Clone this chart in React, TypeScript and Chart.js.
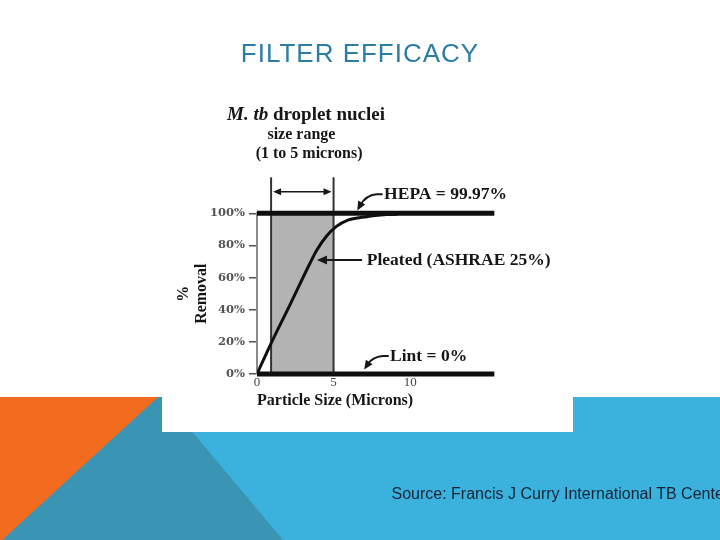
import React, { useEffect, useRef } from "react";
import { Chart, registerables } from "chart.js";

Chart.register(...registerables);

// ---- data ----
const slideTitle = "FILTER EFFICACY";
const sourceText = "Source: Francis J Curry International TB Center";
const headerLines = ["size range", "(1 to 5 microns)"];
const xTickValues = [0, 5, 10];
const yTickStep = 20;
const pleatedX = [0, 0.92, 2.2, 3.46, 3.9, 4.56, 5.21, 5.86, 7.17, 8.48, 9.2];
const pleatedY = [0, 19.1, 44, 68.9, 77, 86, 92, 95.5, 97.9, 99.2, 99.6];
const hepaY = 100;
const lintY = 0;
const filterLineX = [0, 15.5];
const dropletRange = [0.92, 5];
const rangeMarkerTop = 122.4;
const rangeArrowY = 113.4;
const hepaLabel = "HEPA = 99.97%";
const pleatedLabel = "Pleated (ASHRAE 25%)";
const lintLabel = "Lint = 0%";

const SERIF = '"Liberation Serif", "DejaVu Serif", serif';

function arrowHead(ctx: CanvasRenderingContext2D, tx: number, ty: number, fx: number, fy: number, len = 9, half = 4) {
  const a = Math.atan2(ty - fy, tx - fx);
  ctx.beginPath();
  ctx.moveTo(tx, ty);
  ctx.lineTo(tx - len * Math.cos(a) + half * Math.sin(a), ty - len * Math.sin(a) - half * Math.cos(a));
  ctx.lineTo(tx - len * Math.cos(a) - half * Math.sin(a), ty - len * Math.sin(a) + half * Math.cos(a));
  ctx.closePath();
  ctx.fill();
}

const backgroundPlugin = {
  id: "slideBackground",
  beforeDraw(chart: any) {
    const ctx: CanvasRenderingContext2D = chart.ctx;
    ctx.save();
    ctx.fillStyle = "#ffffff";
    ctx.fillRect(0, 0, 720, 540);
    // light blue band
    ctx.fillStyle = "#3bb1de";
    ctx.fillRect(0, 397, 720, 143);
    // dark teal wedge
    ctx.fillStyle = "#3a94b4";
    ctx.beginPath();
    ctx.moveTo(157, 397);
    ctx.lineTo(163, 397);
    ctx.lineTo(283, 540);
    ctx.lineTo(0, 540);
    ctx.closePath();
    ctx.fill();
    // orange triangle
    ctx.fillStyle = "#f26b1f";
    ctx.beginPath();
    ctx.moveTo(0, 397);
    ctx.lineTo(158, 397);
    ctx.lineTo(0, 542);
    ctx.closePath();
    ctx.fill();
    // white picture frame
    ctx.fillStyle = "#ffffff";
    ctx.fillRect(162, 380, 411, 52);
    ctx.restore();
  },
};

const annotationPlugin = {
  id: "filterAnnotations",
  afterDatasetsDraw(chart: any) {
    const ctx: CanvasRenderingContext2D = chart.ctx;
    const xs = chart.scales.x;
    const ys = chart.scales.y;
    const px = (v: number) => xs.getPixelForValue(v);
    const py = (v: number) => ys.getPixelForValue(v);
    ctx.save();
    ctx.fillStyle = "#161616";
    ctx.strokeStyle = "#161616";

    // header
    const cx = px(3.2);
    ctx.textBaseline = "alphabetic";
    const italicFont = `italic bold 19px ${SERIF}`;
    const boldFont = `bold 19px ${SERIF}`;
    ctx.font = italicFont;
    const w1 = ctx.measureText("M. tb").width;
    ctx.font = boldFont;
    const w2 = ctx.measureText(" droplet nuclei").width;
    const start = cx - (w1 + w2) / 2;
    ctx.textAlign = "left";
    ctx.font = italicFont;
    ctx.fillText("M. tb", start, py(158));
    ctx.font = boldFont;
    ctx.fillText(" droplet nuclei", start + w1, py(158));
    ctx.textAlign = "center";
    ctx.font = `bold 16px ${SERIF}`;
    ctx.fillText(headerLines[0], px(2.9), py(146.4));
    ctx.fillText(headerLines[1], px(3.4), py(134.2));

    // double-headed range arrow
    {
      const y = py(rangeArrowY);
      const l = px(dropletRange[0]) + 2;
      const r = px(dropletRange[1]) - 2;
      ctx.lineWidth = 1.5;
      ctx.beginPath();
      ctx.moveTo(l + 5, y);
      ctx.lineTo(r - 5, y);
      ctx.stroke();
      arrowHead(ctx, l, y, r, y, 8, 3.5);
      arrowHead(ctx, r, y, l, y, 8, 3.5);
    }

    // labels
    ctx.font = `bold 17.5px ${SERIF}`;
    ctx.textAlign = "left";
    ctx.textBaseline = "middle";
    ctx.fillText(hepaLabel, px(8.3), py(111.6));
    ctx.fillText(pleatedLabel, px(7.17), py(70.9));
    ctx.fillText(lintLabel, px(8.69), py(11));

    ctx.lineWidth = 2;
    // HEPA arrow
    {
      const sx = px(8.2), sy = py(111.8);
      const hx = px(7.8);
      const cxp = px(7.1), cyp = py(111.2);
      const tx = px(6.55), ty = py(101.8);
      ctx.beginPath();
      ctx.moveTo(sx, sy);
      ctx.lineTo(hx, sy);
      ctx.quadraticCurveTo(cxp, cyp, tx + 3, ty - 5);
      ctx.stroke();
      arrowHead(ctx, tx, ty, cxp, cyp, 9, 4);
    }
    // Pleated arrow
    {
      const sx = px(6.86), y = py(70.9);
      const tx = px(3.92);
      ctx.beginPath();
      ctx.moveTo(sx, y);
      ctx.lineTo(tx + 6, y);
      ctx.stroke();
      arrowHead(ctx, tx, y, sx, y, 10, 4.5);
    }
    // Lint arrow
    {
      const sx = px(8.6), sy = py(11.2);
      const hx = px(8.2);
      const cxp = px(7.55), cyp = py(10.6);
      const tx = px(7.0), ty = py(2.8);
      ctx.beginPath();
      ctx.moveTo(sx, sy);
      ctx.lineTo(hx, sy);
      ctx.quadraticCurveTo(cxp, cyp, tx + 3, ty - 5);
      ctx.stroke();
      arrowHead(ctx, tx, ty, cxp, cyp, 9, 4);
    }
    ctx.restore();
  },
};

export default function App() {
  const ref = useRef<HTMLCanvasElement | null>(null);

  useEffect(() => {
    if (!ref.current) return;
    const black = "#0f0f0f";
    const chart = new Chart(ref.current, {
      type: "line",
      data: {
        datasets: [
          {
            label: "Pleated (ASHRAE 25%)",
            data: pleatedX.map((x, i) => ({ x, y: pleatedY[i] })),
            borderColor: black,
            borderWidth: 3,
            pointRadius: 0,
            cubicInterpolationMode: "monotone",
            fill: false,
            order: 0,
          },
          {
            label: "HEPA",
            data: filterLineX.map((x) => ({ x, y: hepaY })),
            borderColor: black,
            borderWidth: 5,
            pointRadius: 0,
            fill: false,
            clip: false,
            order: 1,
          },
          {
            label: "Lint",
            data: filterLineX.map((x) => ({ x, y: lintY })),
            borderColor: black,
            borderWidth: 5,
            pointRadius: 0,
            fill: false,
            clip: false,
            order: 1,
          },
          {
            label: "range start",
            data: [
              { x: dropletRange[0], y: 0 },
              { x: dropletRange[0], y: rangeMarkerTop },
            ],
            borderColor: "#333333",
            borderWidth: 2,
            pointRadius: 0,
            fill: false,
            clip: false,
            order: 2,
          },
          {
            label: "range end",
            data: [
              { x: dropletRange[1], y: 0 },
              { x: dropletRange[1], y: rangeMarkerTop },
            ],
            borderColor: "#333333",
            borderWidth: 2,
            pointRadius: 0,
            fill: false,
            clip: false,
            order: 2,
          },
          {
            label: "droplet range",
            data: [
              { x: dropletRange[0], y: hepaY },
              { x: dropletRange[1], y: hepaY },
            ],
            borderWidth: 0,
            borderColor: "rgba(0,0,0,0)",
            backgroundColor: "#b3b3b3",
            pointRadius: 0,
            fill: "origin",
            order: 3,
          },
        ],
      },
      options: {
        responsive: false,
        animation: false,
        devicePixelRatio: 1,
        events: [],
        layout: { padding: { left: 170, right: 218, top: 213.3, bottom: 126 } },
        plugins: {
          legend: { display: false },
          tooltip: { enabled: false },
          title: { display: false },
        },
        scales: {
          x: {
            type: "linear",
            min: 0,
            max: 16,
            afterBuildTicks: (s: any) => {
              s.ticks = xTickValues.map((v) => ({ value: v }));
            },
            grid: { display: false, drawTicks: false },
            border: { display: false },
            ticks: {
              font: { family: SERIF, size: 13 },
              color: "#444444",
              padding: 1,
              autoSkip: false,
              maxRotation: 0,
            },
            title: {
              display: true,
              text: "Particle Size (Microns)",
              align: "start",
              color: "#151515",
              font: { family: SERIF, size: 16, weight: "bold", lineHeight: 1.2 },
              padding: { top: 0, bottom: 3.7 },
            },
            afterFit: (s: any) => {
              s.height = 40;
            },
          },
          y: {
            type: "linear",
            min: 0,
            max: 100,
            ticks: {
              stepSize: yTickStep,
              callback: (v: any) => `${v}%`,
              font: { family: '"DejaVu Serif", serif', size: 11.5, weight: "bold" },
              color: "#555555",
              padding: 4,
            },
            grid: { drawOnChartArea: false, drawTicks: true, tickLength: 8, color: "#555555", lineWidth: 1.5 },
            border: { display: true, color: "#8a8a8a", width: 2 },
            title: {
              display: true,
              text: ["%", "Removal"],
              color: "#151515",
              font: { family: SERIF, size: 16, weight: "bold", lineHeight: 1.1 },
              padding: { top: 5.2, bottom: 0 },
            },
            afterFit: (s: any) => {
              s.width = 87;
            },
          },
        },
      },
      plugins: [backgroundPlugin, annotationPlugin],
    } as any);
    return () => chart.destroy();
  }, []);

  return (
    <div
      style={{
        position: "absolute",
        left: 0,
        top: 0,
        width: 720,
        height: 540,
        overflow: "hidden",
        background: "#ffffff",
      }}
    >
      <canvas
        ref={ref}
        width={720}
        height={540}
        style={{ position: "absolute", left: 0, top: 0, width: 720, height: 540 }}
      />
      <div
        style={{
          position: "absolute",
          left: 0,
          top: 39.7,
          width: 720,
          textAlign: "center",
          fontFamily: '"Liberation Sans", Arial, sans-serif',
          fontSize: 26,
          lineHeight: "26px",
          letterSpacing: "1px",
          color: "#2b7da6",
          whiteSpace: "nowrap",
        }}
      >
        {slideTitle}
      </div>
      <div
        style={{
          position: "absolute",
          left: 391.5,
          top: 485.5,
          fontFamily: '"Liberation Sans", Arial, sans-serif',
          fontSize: 16,
          lineHeight: "16px",
          color: "#1b2433",
          whiteSpace: "nowrap",
        }}
      >
        {sourceText}
      </div>
    </div>
  );
}
